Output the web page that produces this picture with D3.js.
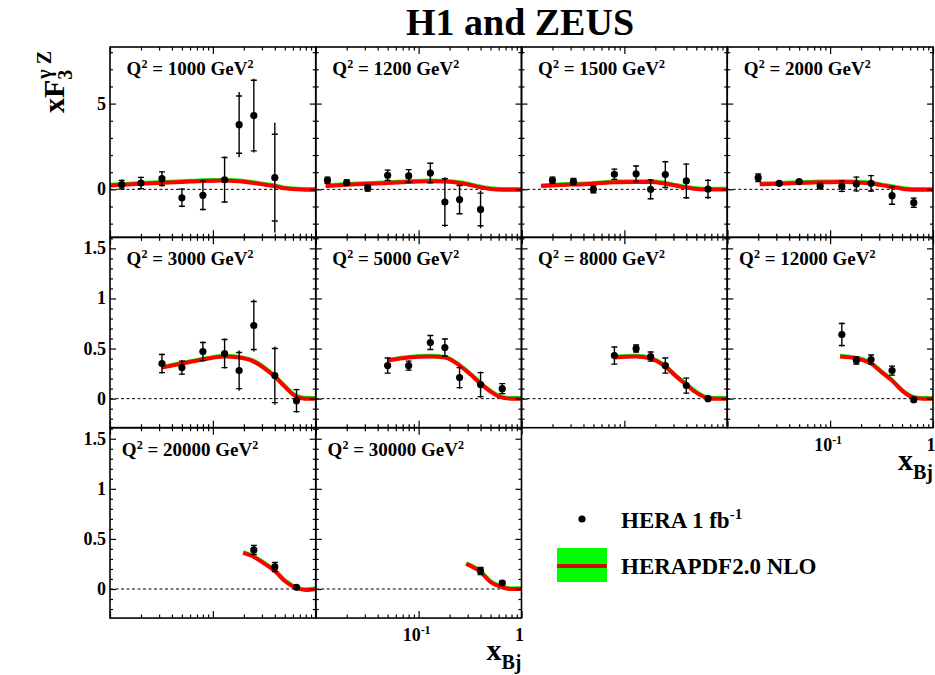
<!DOCTYPE html>
<html>
<head>
<meta charset="utf-8">
<script src="https://cdn.jsdelivr.net/npm/d3@7"></script>
<style>
  body { margin: 0; background: #fff; }
  svg { display: block; }
  text { font-family: "Liberation Serif", "Times New Roman", serif; font-weight: bold; fill: #000; }
</style>
</head>
<body>
<svg id="chart" width="935" height="675"></svg>
<script>
// Q^2 bins, one panel each (GeV^2)
const q2Values = [1000, 1200, 1500, 2000, 3000, 5000, 8000, 12000, 20000, 30000];

// Measured xF3 (gamma Z) per Q^2 bin
const xBj = [
  [0.013, 0.02, 0.032, 0.05, 0.08, 0.13, 0.18, 0.25, 0.4],
  [0.013, 0.02, 0.032, 0.05, 0.08, 0.13, 0.18, 0.25, 0.4],
  [0.02, 0.032, 0.05, 0.08, 0.13, 0.18, 0.25, 0.4, 0.65],
  [0.02, 0.032, 0.05, 0.08, 0.13, 0.18, 0.25, 0.4, 0.65],
  [0.032, 0.05, 0.08, 0.13, 0.18, 0.25, 0.4, 0.65],
  [0.05, 0.08, 0.13, 0.18, 0.25, 0.4, 0.65],
  [0.08, 0.13, 0.18, 0.25, 0.4, 0.65],
  [0.13, 0.18, 0.25, 0.4, 0.65],
  [0.25, 0.4, 0.65],
  [0.4, 0.65]
];
const xF3 = [
  [0.27, 0.37, 0.62, -0.49, -0.35, 0.56, 3.77, 4.3, 0.68],
  [0.53, 0.39, 0.08, 0.82, 0.78, 0.95, -0.74, -0.6, -1.17],
  [0.53, 0.45, 0.0, 0.88, 0.91, 0.0, 0.86, 0.49, 0.02],
  [0.68, 0.35, 0.45, 0.19, 0.18, 0.31, 0.35, -0.37, -0.78],
  [0.35, 0.31, 0.47, 0.45, 0.28, 0.73, 0.23, -0.02],
  [0.33, 0.33, 0.56, 0.51, 0.21, 0.14, 0.1],
  [0.43, 0.5, 0.42, 0.33, 0.13, 0.0],
  [0.64, 0.38, 0.39, 0.28, -0.01],
  [0.39, 0.22, 0.017],
  [0.18, 0.06]
];
const statErr = [
  [0.25, 0.33, 0.4, 0.5, 0.83, 1.3, 1.67, 2.06, 2.53],
  [0.18, 0.16, 0.18, 0.3, 0.37, 0.57, 1.36, 0.82, 0.95],
  [0.18, 0.18, 0.2, 0.3, 0.45, 0.55, 0.75, 0.98, 0.5],
  [0.22, 0.08, 0.08, 0.15, 0.3, 0.4, 0.45, 0.5, 0.27],
  [0.09, 0.065, 0.09, 0.14, 0.18, 0.24, 0.27, 0.11],
  [0.075, 0.045, 0.07, 0.085, 0.1, 0.12, 0.05],
  [0.085, 0.035, 0.045, 0.075, 0.075, 0.018],
  [0.11, 0.035, 0.045, 0.045, 0.018],
  [0.045, 0.045, 0.013],
  [0.035, 0.018]
];
const totErr = [
  [0.3, 0.37, 0.45, 0.55, 0.87, 1.35, 1.9, 2.15, 3.2],
  [0.2, 0.19, 0.2, 0.33, 0.4, 0.6, 1.45, 0.85, 1.1],
  [0.2, 0.2, 0.25, 0.33, 0.5, 0.6, 0.8, 1.05, 0.58],
  [0.25, 0.1, 0.1, 0.18, 0.35, 0.45, 0.5, 0.55, 0.3],
  [0.1, 0.075, 0.1, 0.15, 0.2, 0.26, 0.29, 0.12],
  [0.08, 0.05, 0.075, 0.09, 0.11, 0.13, 0.055],
  [0.09, 0.04, 0.05, 0.08, 0.08, 0.02],
  [0.12, 0.04, 0.05, 0.05, 0.02],
  [0.05, 0.05, 0.015],
  [0.04, 0.02]
];

// HERAPDF2.0 NLO prediction nodes per Q^2 bin
const pdfX = [
  [0.0101, 0.02, 0.05, 0.08, 0.13, 0.18, 0.25, 0.32, 0.4, 0.5, 0.65, 0.8, 1.0],
  [0.0125, 0.02, 0.05, 0.08, 0.13, 0.18, 0.25, 0.32, 0.4, 0.5, 0.65, 1.0],
  [0.0155, 0.02, 0.05, 0.08, 0.13, 0.18, 0.25, 0.32, 0.4, 0.5, 0.65, 1.0],
  [0.0207, 0.032, 0.05, 0.08, 0.13, 0.18, 0.25, 0.32, 0.4, 0.5, 0.65, 1.0],
  [0.032, 0.05, 0.08, 0.13, 0.18, 0.25, 0.32, 0.4, 0.5, 0.65, 0.8, 1.0],
  [0.05, 0.08, 0.13, 0.18, 0.25, 0.32, 0.4, 0.5, 0.65, 0.8, 1.0],
  [0.08, 0.13, 0.18, 0.25, 0.32, 0.4, 0.5, 0.65, 0.8, 1.0],
  [0.125, 0.18, 0.25, 0.32, 0.4, 0.5, 0.65, 0.8, 1.0],
  [0.197, 0.25, 0.32, 0.4, 0.5, 0.65, 0.8, 1.0],
  [0.29, 0.4, 0.5, 0.65, 0.8, 1.0]
];
const pdfY = [
  [0.23, 0.33, 0.43, 0.49, 0.52, 0.47, 0.37, 0.27, 0.18, 0.06, 0.0, -0.02, -0.02],
  [0.19, 0.27, 0.37, 0.43, 0.47, 0.45, 0.37, 0.25, 0.12, 0.02, -0.02, -0.02],
  [0.19, 0.23, 0.33, 0.41, 0.43, 0.43, 0.33, 0.21, 0.1, 0.02, -0.01, -0.01],
  [0.29, 0.33, 0.37, 0.41, 0.43, 0.41, 0.35, 0.23, 0.14, 0.04, -0.02, -0.02],
  [0.31, 0.35, 0.39, 0.42, 0.41, 0.37, 0.3, 0.22, 0.12, 0.02, 0.0, 0.0],
  [0.38, 0.41, 0.42, 0.41, 0.33, 0.24, 0.15, 0.07, 0.01, 0.0, 0.0],
  [0.41, 0.42, 0.4, 0.32, 0.22, 0.14, 0.06, 0.005, 0.0, 0.0],
  [0.42, 0.4, 0.35, 0.26, 0.18, 0.08, 0.01, 0.0, 0.0],
  [0.36, 0.32, 0.25, 0.18, 0.08, 0.01, -0.01, 0.0],
  [0.25, 0.17, 0.07, 0.017, 0.0, 0.0]
];

// Axis ticks
const yMajorTop = [0, 5];
const yMinorTop = [-2, -1, 1, 2, 3, 4, 6, 7, 8];
const yMajorLow = [0, 0.5, 1, 1.5];
const yMinorLow = [-0.2, -0.1, 0.1, 0.2, 0.3, 0.4, 0.6, 0.7, 0.8, 0.9, 1.1, 1.2, 1.3, 1.4, 1.6];
const xMajor = [0.01, 0.1, 1];
const xMinor = [0.02, 0.03, 0.04, 0.05, 0.06, 0.07, 0.08, 0.09, 0.2, 0.3, 0.4, 0.5, 0.6, 0.7, 0.8, 0.9];
const xLabelValues = [0.1, 1];
const xLabelBase = ["10", "1"];
const xLabelExp = ["-1", ""];
const xLabelPanels = [7, 9];

const svg = d3.select("#chart");
svg.append("rect").attr("width", 935).attr("height", 675).attr("fill", "#fff");

const left0 = 110, top0 = 47, panelW = 205.75, panelH = 190.35;
const ncol = 4;

function tickAxis(g, axisFn, scale, values, len, tx, ty) {
  const a = axisFn(scale).tickValues(values).tickSize(-len).tickFormat("");
  const s = g.append("g").attr("transform", `translate(${tx},${ty})`).call(a);
  s.select(".domain").remove();
  s.selectAll(".tick line").attr("stroke", "#000").attr("stroke-width", 1.2);
  return s;
}

q2Values.forEach((q2, i) => {
  const row = Math.floor(i / ncol), col = i % ncol;
  const x0 = left0 + col * panelW, y0 = top0 + row * panelH;
  const x1 = x0 + panelW, y1 = y0 + panelH;
  const x = d3.scaleLog().domain([0.01, 1]).range([x0, x1]);
  const y = d3.scaleLinear().domain(row === 0 ? [-2.8, 8.3] : [-0.29, 1.61]).range([y1, y0]);
  const g = svg.append("g");

  g.append("clipPath").attr("id", "clip" + i)
    .append("rect").attr("x", x0).attr("y", y0).attr("width", panelW).attr("height", panelH);
  const inner = g.append("g").attr("clip-path", `url(#clip${i})`);

  // zero reference line
  inner.append("line")
    .attr("x1", x0).attr("x2", x1).attr("y1", y(0)).attr("y2", y(0))
    .attr("stroke", "#000").attr("stroke-width", 1).attr("stroke-dasharray", "3,2.5");

  // prediction: thin uncertainty band under the central curve
  const pts = pdfX[i].map((v, k) => [v, pdfY[i][k]]);
  const line = d3.line().x(d => x(d[0])).y(d => y(d[1])).curve(d3.curveMonotoneX);
  inner.append("path").attr("d", line(pts)).attr("fill", "none")
    .attr("stroke", "#00ff00").attr("stroke-width", 4.2).attr("transform", "translate(0,-0.6)");
  inner.append("path").attr("d", line(pts)).attr("fill", "none")
    .attr("stroke", "#ff0000").attr("stroke-width", 4);

  // data points with total error bars and statistical caps
  xBj[i].forEach((xv, k) => {
    const v = xF3[i][k], te = totErr[i][k], se = statErr[i][k];
    const px = x(xv);
    inner.append("line").attr("x1", px).attr("x2", px)
      .attr("y1", y(v - te)).attr("y2", y(v + te))
      .attr("stroke", "#000").attr("stroke-width", 1.4);
    [v - se, v + se].forEach(c => {
      inner.append("line").attr("x1", px - 3).attr("x2", px + 3)
        .attr("y1", y(c)).attr("y2", y(c))
        .attr("stroke", "#000").attr("stroke-width", 1.4);
    });
    inner.append("circle").attr("cx", px).attr("cy", y(v)).attr("r", 3.6).attr("fill", "#000");
  });

  // ticks on all four sides, pointing inward
  const yMaj = row === 0 ? yMajorTop : yMajorLow;
  const yMin = row === 0 ? yMinorTop : yMinorLow;
  tickAxis(g, d3.axisLeft, y, yMaj, 6, x0, 0);
  tickAxis(g, d3.axisLeft, y, yMin, 3, x0, 0);
  tickAxis(g, d3.axisRight, y, yMaj, 6, x1, 0);
  tickAxis(g, d3.axisRight, y, yMin, 3, x1, 0);
  tickAxis(g, d3.axisTop, x, xMajor, 7, 0, y0);
  tickAxis(g, d3.axisTop, x, xMinor, 3.5, 0, y0);
  tickAxis(g, d3.axisBottom, x, xMajor, 7, 0, y1);
  tickAxis(g, d3.axisBottom, x, xMinor, 3.5, 0, y1);

  // frame
  g.append("rect").attr("x", x0).attr("y", y0).attr("width", panelW).attr("height", panelH)
    .attr("fill", "none").attr("stroke", "#000").attr("stroke-width", 1.6);

  // y tick labels on the first column
  if (col === 0) {
    yMaj.forEach(v => {
      g.append("text").attr("x", x0 - 4).attr("y", y(v) + 6)
        .attr("text-anchor", "end").attr("font-size", 18).text(v);
    });
  }

  // x tick labels
  if (xLabelPanels.includes(i)) {
    xLabelValues.forEach((v, k) => {
      const t = g.append("text").attr("x", x(v) - 2).attr("y", y1 + 23)
        .attr("text-anchor", "middle").attr("font-size", 18);
      t.append("tspan").text(xLabelBase[k]);
      if (xLabelExp[k]) t.append("tspan").attr("dy", -7).attr("font-size", 12).text(xLabelExp[k]);
    });
    const xt = g.append("text").attr("x", x1).attr("y", y1 + 42)
      .attr("text-anchor", "end").attr("font-size", 30);
    xt.append("tspan").text("x");
    xt.append("tspan").attr("dy", 9).attr("font-size", 20).text("Bj");
  }

  // Q^2 label
  const lab = g.append("text").attr("x", x0 + 80).attr("y", y0 + 28)
    .attr("text-anchor", "middle").attr("font-size", 19);
  lab.append("tspan").text("Q");
  lab.append("tspan").attr("dy", -7).attr("font-size", 12).text("2");
  lab.append("tspan").attr("dy", 7).text(` = ${q2} GeV`);
  lab.append("tspan").attr("dy", -7).attr("font-size", 12).text("2");
});

// title
svg.append("text").attr("x", 520).attr("y", 35).attr("text-anchor", "middle")
  .attr("font-size", 38).text("H1 and ZEUS");

// y axis title: xF3^{gamma Z}
const yt = svg.append("g").attr("transform", "translate(64,113) rotate(-90)");
const ytMain = yt.append("text").attr("x", 0).attr("y", 0).attr("font-size", 30).text("xF");
const wMain = ytMain.node().getComputedTextLength();
yt.append("text").attr("x", wMain).attr("y", 8).attr("font-size", 20).text("3");
yt.append("text").attr("x", wMain + 1).attr("y", -13).attr("font-size", 20).text("\u03B3 Z");

// legend
const legendItems = ["HERA 1 fb", "HERAPDF2.0 NLO"];
const lg = svg.append("g");
lg.append("circle").attr("cx", 582).attr("cy", 519).attr("r", 3.6).attr("fill", "#000");
const l1 = lg.append("text").attr("x", 621).attr("y", 528).attr("font-size", 23);
l1.append("tspan").text(legendItems[0]);
l1.append("tspan").attr("dy", -9).attr("font-size", 15).text("-1");
lg.append("rect").attr("x", 557).attr("y", 548).attr("width", 50).attr("height", 34).attr("fill", "#00ff00");
lg.append("line").attr("x1", 557).attr("x2", 607).attr("y1", 566).attr("y2", 566)
  .attr("stroke", "#c41200").attr("stroke-width", 4);
lg.append("text").attr("x", 621).attr("y", 574).attr("font-size", 23).text(legendItems[1]);
</script>
</body>
</html>
